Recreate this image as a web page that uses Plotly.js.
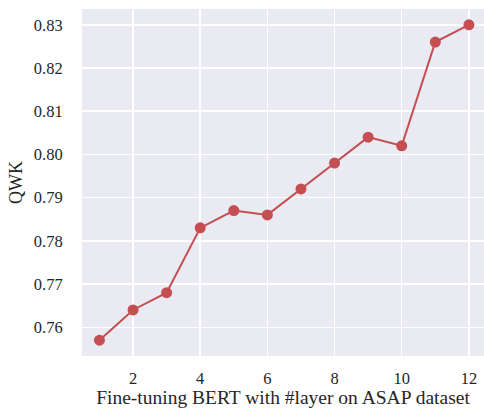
<!DOCTYPE html>
<html>
<head>
<meta charset="utf-8">
<script src="https://cdn.plot.ly/plotly-3.0.1.min.js"></script>
<style>
  html, body { margin: 0; padding: 0; background: #fff; overflow: hidden; }
  #chart { width: 484px; height: 408px; }
</style>
</head>
<body>
<div id="chart"></div>
<script>
// Number of fine-tuned BERT layers and the resulting QWK on ASAP
const layers = [1, 2, 3, 4, 5, 6, 7, 8, 9, 10, 11, 12];
const qwk = [0.757, 0.764, 0.768, 0.783, 0.787, 0.786, 0.792, 0.798, 0.804, 0.802, 0.826, 0.830];
const xTicks = [2, 4, 6, 8, 10, 12];
const yTicks = [0.76, 0.77, 0.78, 0.79, 0.80, 0.81, 0.82, 0.83];

const serif = 'Liberation Serif';
const ink = '#262626';
const red = '#C44E52';

const trace = {
  x: layers,
  y: qwk,
  type: 'scatter',
  mode: 'lines+markers',
  line: { color: red, width: 2 },
  marker: { color: red, size: 11 },
  hoverinfo: 'x+y'
};

const layout = {
  width: 484,
  height: 408,
  margin: { l: 82, r: 0, t: 9, b: 52 },
  paper_bgcolor: '#ffffff',
  plot_bgcolor: '#EAEAF2',
  showlegend: false,
  font: { family: serif, color: ink, size: 16.5 },
  xaxis: {
    range: [0.48, 12.45],
    tickvals: xTicks,
    ticktext: xTicks.map(String),
    showgrid: true,
    gridcolor: '#ffffff',
    gridwidth: 1.5,
    zeroline: false,
    showline: false,
    ticks: 'outside',
    ticklen: 7,
    tickcolor: 'rgba(0,0,0,0)',
    tickfont: { family: serif, size: 16.5, color: ink },
    title: { text: 'Fine-tuning BERT with #layer on ASAP dataset', font: { family: serif, size: 19.5, color: ink }, standoff: 8 },
    automargin: false
  },
  yaxis: {
    range: [0.75335, 0.83365],
    tickvals: yTicks,
    ticktext: yTicks.map(v => v.toFixed(2)),
    showgrid: true,
    gridcolor: '#ffffff',
    gridwidth: 1.5,
    zeroline: false,
    showline: false,
    ticks: 'outside',
    ticklen: 15,
    tickcolor: 'rgba(0,0,0,0)',
    tickfont: { family: serif, size: 16.5, color: ink },
    title: { text: 'QWK', font: { family: serif, size: 18, color: ink }, standoff: 6 },
    automargin: false
  }
};

Plotly.newPlot('chart', [trace], layout, { displayModeBar: false, staticPlot: true });
</script>
</body>
</html>
